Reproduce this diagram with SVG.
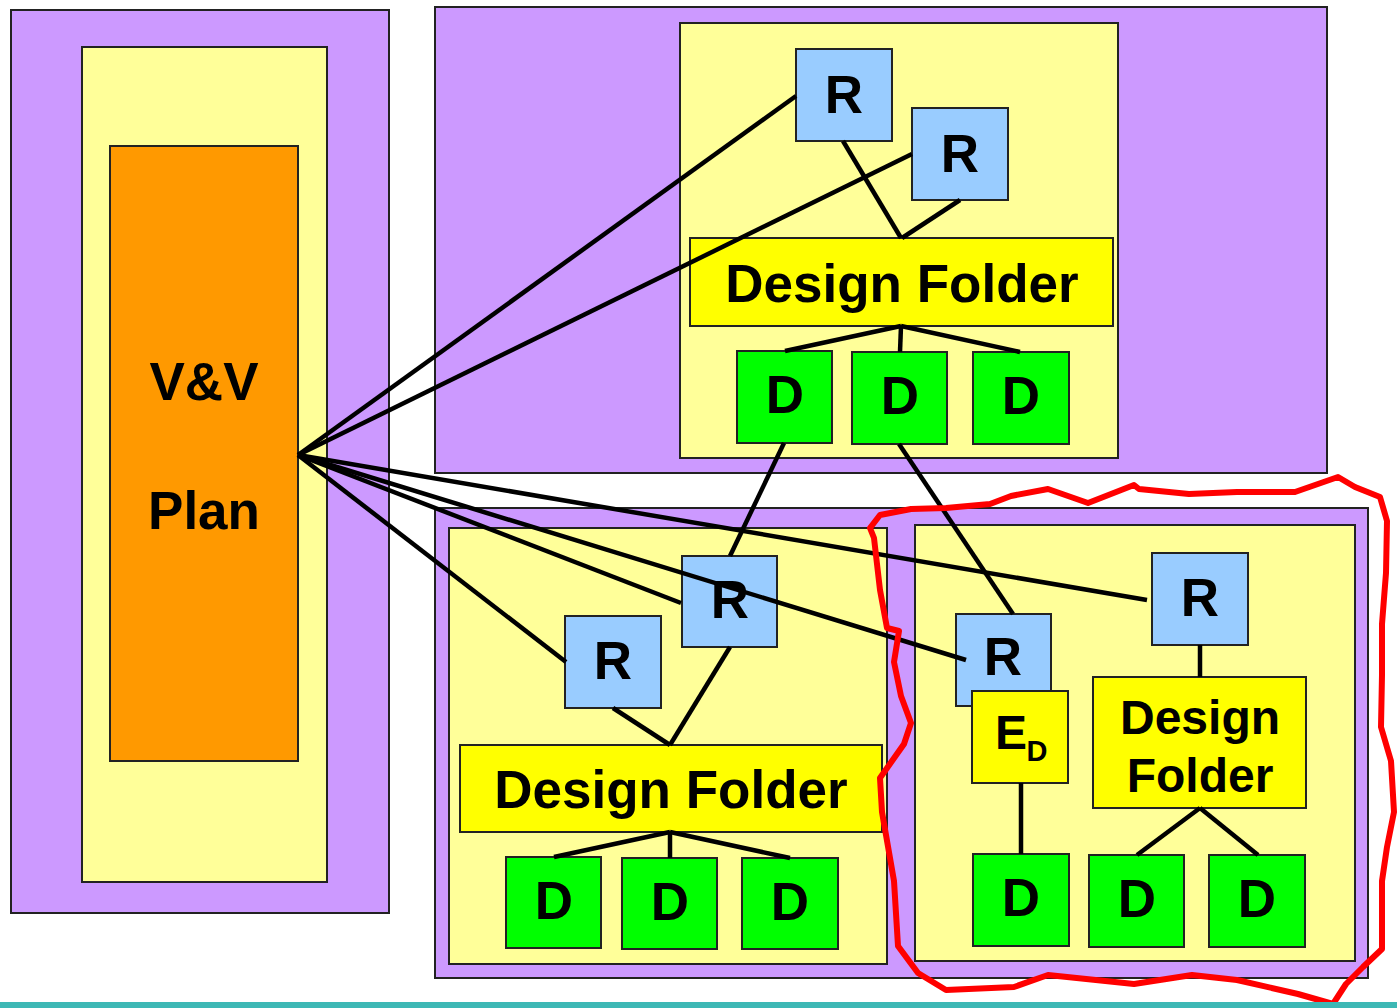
<svg xmlns="http://www.w3.org/2000/svg" width="1397" height="1008" viewBox="0 0 1397 1008">
<style>
.pur{fill:#CC99FF;stroke:#222;stroke-width:2}
.lyel{fill:#FFFF99;stroke:#222;stroke-width:2}
.org{fill:#FF9900;stroke:#222;stroke-width:2}
.r{fill:#99CCFF;stroke:#222;stroke-width:2}
.d{fill:#00FF00;stroke:#222;stroke-width:2}
.df{fill:#FFFF00;stroke:#222;stroke-width:2}
text{font-family:"Liberation Sans",Arial,sans-serif;font-weight:bold;fill:#000;text-anchor:middle}
.t{font-size:53px}
.t2{font-size:48px}
.conn line{stroke:#000;stroke-width:4.5;stroke-linecap:butt}
</style>
<rect x="0" y="0" width="1397" height="1008" fill="#fff"/>
<!-- containers -->
<g id="left-panel">
<rect class="pur" x="11" y="10" width="378" height="903"/>
<rect class="lyel" x="82" y="47" width="245" height="835"/>
</g>
<g id="top-panel">
<rect class="pur" x="435" y="7" width="892" height="466"/>
<rect class="lyel" x="680" y="23" width="438" height="435"/>
</g>
<g id="bottom-panel">
<rect class="pur" x="435" y="508" width="933" height="470"/>
<rect class="lyel" x="449" y="528" width="438" height="436"/>
<rect class="lyel" x="915" y="525" width="440" height="436"/>
</g>
<!-- nodes -->
<g id="vv-plan">
<rect class="org" x="110" y="146" width="188" height="615"/>
<text class="t" x="204" y="400">V&amp;V</text>
<text class="t" x="204" y="529">Plan</text>
</g>
<g id="top-r1"><rect class="r" x="796" y="49" width="96" height="92"/><text class="t" x="844" y="113">R</text></g>
<g id="top-r2"><rect class="r" x="912" y="108" width="96" height="92"/><text class="t" x="960" y="172">R</text></g>
<g id="top-df"><rect class="df" x="690" y="238" width="423" height="88"/><text class="t" x="902" y="302">Design Folder</text></g>
<g id="top-d1"><rect class="d" x="737" y="351" width="95" height="92"/><text class="t" x="785" y="413">D</text></g>
<g id="top-d2"><rect class="d" x="852" y="352" width="95" height="92"/><text class="t" x="900" y="414">D</text></g>
<g id="top-d3"><rect class="d" x="973" y="352" width="96" height="92"/><text class="t" x="1021" y="414">D</text></g>

<g id="bot-r1"><rect class="r" x="565" y="616" width="96" height="92"/><text class="t" x="613" y="679">R</text></g>
<g id="bot-r2"><rect class="r" x="682" y="556" width="95" height="91"/><text class="t" x="730" y="618">R</text></g>
<g id="bot-df"><rect class="df" x="460" y="745" width="422" height="87"/><text class="t" x="671" y="808">Design Folder</text></g>
<g id="bot-d1"><rect class="d" x="506" y="857" width="95" height="91"/><text class="t" x="554" y="919">D</text></g>
<g id="bot-d2"><rect class="d" x="622" y="858" width="95" height="91"/><text class="t" x="670" y="920">D</text></g>
<g id="bot-d3"><rect class="d" x="742" y="858" width="96" height="91"/><text class="t" x="790" y="920">D</text></g>

<g id="rs-r1"><rect class="r" x="956" y="614" width="95" height="92"/><text class="t" x="1003" y="675">R</text></g>
<g id="rs-ed"><rect class="df" x="972" y="691" width="96" height="92"/><text x="1011" y="749" style="font-size:48px">E</text><text x="1037" y="761" style="font-size:29px">D</text></g>
<g id="rs-r2"><rect class="r" x="1152" y="553" width="96" height="92"/><text class="t" x="1200" y="616">R</text></g>
<g id="rs-df"><rect class="df" x="1093" y="677" width="213" height="131"/><text class="t2" x="1200" y="734">Design</text><text class="t2" x="1200" y="792">Folder</text></g>
<g id="rs-d1"><rect class="d" x="973" y="854" width="96" height="92"/><text class="t" x="1021" y="916">D</text></g>
<g id="rs-d2"><rect class="d" x="1089" y="855" width="95" height="92"/><text class="t" x="1137" y="917">D</text></g>
<g id="rs-d3"><rect class="d" x="1209" y="855" width="96" height="92"/><text class="t" x="1257" y="917">D</text></g>

<!-- connectors -->
<g id="connectors" class="conn">
<line x1="298" y1="455" x2="796" y2="96"/>
<line x1="298" y1="455" x2="912" y2="154"/>
<line x1="298" y1="455" x2="566" y2="662"/>
<line x1="298" y1="455" x2="681" y2="603"/>
<line x1="298" y1="455" x2="966" y2="660"/>
<line x1="298" y1="455" x2="1147" y2="600"/>
<line x1="843" y1="141" x2="901" y2="238"/>
<line x1="960" y1="200" x2="902" y2="238"/>
<line x1="901" y1="326" x2="785" y2="351"/>
<line x1="901" y1="326" x2="900" y2="352"/>
<line x1="901" y1="326" x2="1020" y2="352"/>
<line x1="784" y1="443" x2="730" y2="556"/>
<line x1="899" y1="444" x2="1013" y2="614"/>
<line x1="613" y1="708" x2="670" y2="745"/>
<line x1="730" y1="647" x2="670" y2="745"/>
<line x1="670" y1="832" x2="554" y2="857"/>
<line x1="670" y1="832" x2="670" y2="858"/>
<line x1="670" y1="832" x2="790" y2="858"/>
<line x1="1200" y1="645" x2="1200" y2="677"/>
<line x1="1021" y1="783" x2="1021" y2="854"/>
<line x1="1200" y1="808" x2="1137" y2="855"/>
<line x1="1200" y1="808" x2="1258" y2="855"/>
</g>
<!-- freehand highlight -->
<g id="highlight">
<path d="M870,528 L880,515 L911,509 L946,508 L990,504 L1011,496 L1048,489 L1088,503 L1134,485 L1139,489 L1189,494 L1237,492 L1295,492 L1338,477 L1355,487 L1380,497 L1387,521 L1386,573 L1382,624 L1382,675 L1381,727 L1391,761 L1394,812 L1387,847 L1382,881 L1382,949 L1363,967 L1346,984 L1333,1004 L1298,994 L1237,980 L1192,975 L1134,984 L1048,975 L1014,987 L946,990 L918,973 L898,946 L894,881 L882,812 L880,778 L904,744 L911,723 L901,696 L894,662 L899,631 L887,628 L880,590 L874,538 Z" fill="none" stroke="#FF0000" stroke-width="6" stroke-linejoin="round"/>
</g>
<rect id="footer-bar" x="0" y="1002" width="1397" height="6" fill="#3DB8B5"/>
</svg>
